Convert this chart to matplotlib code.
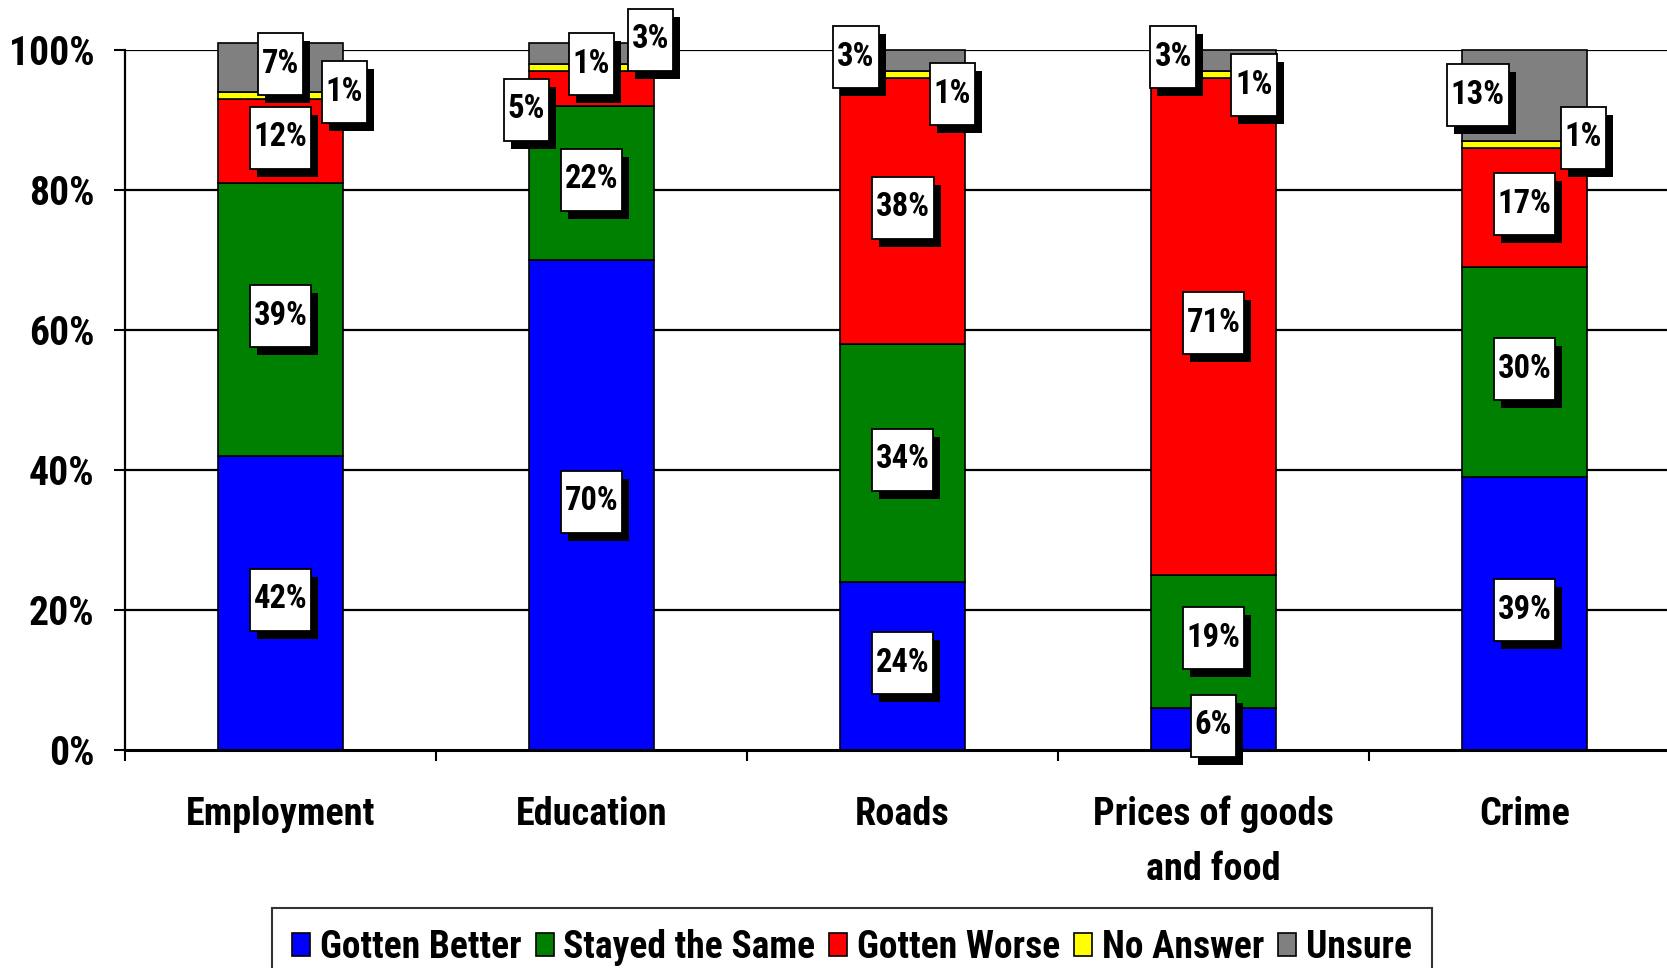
import matplotlib
matplotlib.use("Agg")
import matplotlib.pyplot as plt
from matplotlib.patches import Rectangle
from matplotlib.transforms import ScaledTranslation
import numpy as np

# ---------------- data ----------------
categories = ["Employment", "Education", "Roads", "Prices of goods\nand food", "Crime"]
series_names = ["Gotten Better", "Stayed the Same", "Gotten Worse", "No Answer", "Unsure"]
gotten_better = [42, 70, 24, 6, 39]
stayed_same = [39, 22, 34, 19, 30]
gotten_worse = [12, 5, 38, 71, 17]
no_answer = [1, 1, 1, 1, 1]
unsure = [7, 3, 3, 3, 13]
y_ticks = [0, 20, 40, 60, 80, 100]
y_tick_labels = ["0%", "20%", "40%", "60%", "80%", "100%"]

colors = ["#0000FF", "#008000", "#FF0000", "#FFFF00", "#808080"]

# label placement tweaks (x in category units, y in percentage points)
label_dx = [
    [0, 0, 0, 0, 0],
    [0, 0, 0, 0, 0],
    [0, -0.21, 0, 0, 0],
    [0.206, 0, 0.16, 0.13, 0.19],
    [0, 0.19, -0.15, -0.13, -0.15],
]
label_dy = [
    [0, 0, 0, 0, 0],
    [0, 0, 0, 0, 0],
    [0, -3.5, 0, 0, 0],
    [0, 0, -3.3, -2.0, 0.5],
    [0, 1.5, 0, 0, -0.4],
]

FONTS = ["Roboto Condensed", "Liberation Sans", "DejaVu Sans"]
plt.rcParams["font.family"] = FONTS
plt.rcParams["font.weight"] = "bold"

W, H = 1667, 968
fig = plt.figure(figsize=(W / 100, H / 100), dpi=100)
ax = fig.add_axes([125 / W, (H - 750) / H, 5 * 311 / W, 700 / H])

series = [gotten_better, stayed_same, gotten_worse, no_answer, unsure]
x = np.arange(len(categories))
bottom = np.zeros(len(categories))
bar_w = 0.4
centers = []
for vals, col, name in zip(series, colors, series_names):
    vals = np.array(vals, dtype=float)
    ax.bar(x, vals, bar_w, bottom=bottom, color=col, edgecolor="black",
           linewidth=1.2, label=name, zorder=3, clip_on=False)
    centers.append(bottom + vals / 2)
    bottom = bottom + vals

ax.set_xlim(-0.5, len(categories) - 0.5)
ax.set_ylim(0, 100)
ax.set_yticks(y_ticks)
ax.set_yticklabels(y_tick_labels)
ax.tick_params(axis="y", length=8, width=1.5, pad=14, labelsize=28.5, direction="out")
ax.set_xticks(x)
ax.set_xticklabels(categories, fontsize=27.5, linespacing=1.62)
ax.tick_params(axis="x", which="major", length=0, pad=33)
ax.set_xticks(np.arange(-0.5, len(categories) + 0.5, 1), minor=True)
ax.tick_params(axis="x", which="minor", length=8, width=1.5, direction="out")

for yv in y_ticks[1:]:
    ax.axhline(yv, color="black", linewidth=1.6, zorder=1)
for s in ["top", "right"]:
    ax.spines[s].set_visible(False)
ax.spines["left"].set_linewidth(1.6)
ax.spines["bottom"].set_linewidth(2.2)
ax.spines["bottom"].set_zorder(4)

# ---------------- value labels ----------------
renderer = fig.canvas.get_renderer()
for si, vals in enumerate(series):
    for ci, v in enumerate(vals):
        xc = x[ci] + label_dx[si][ci]
        yc = centers[si][ci] + 0.5 + label_dy[si][ci]
        t = ax.text(xc, yc, f"{v}%", ha="center", va="center", fontsize=23.5,
                    fontweight="bold", zorder=7, clip_on=False)
        bb = t.get_window_extent(renderer)
        bw = (bb.width + 8) / 100.0
        bh = 62 / 100.0
        trans = fig.dpi_scale_trans + ScaledTranslation(xc, yc, ax.transData)
        shadow = Rectangle((-bw / 2 + 0.07, -bh / 2 - 0.08), bw, bh, transform=trans,
                           facecolor="black", edgecolor="none", zorder=5, clip_on=False)
        box = Rectangle((-bw / 2, -bh / 2), bw, bh, transform=trans,
                        facecolor="white", edgecolor="black", linewidth=1.3,
                        zorder=6, clip_on=False)
        ax.add_patch(shadow)
        ax.add_patch(box)

# ---------------- legend ----------------
leg = fig.legend(loc="upper center", bbox_to_anchor=(852 / W, (H - 908) / H), ncol=5,
                 fontsize=27, frameon=True, fancybox=False, edgecolor="black",
                 handlelength=0.48, handleheight=0.6, handletextpad=0.25,
                 columnspacing=0.38, borderpad=0.55, borderaxespad=0)
leg.get_frame().set_linewidth(1.5)

fig.savefig("out.png", dpi=100)
